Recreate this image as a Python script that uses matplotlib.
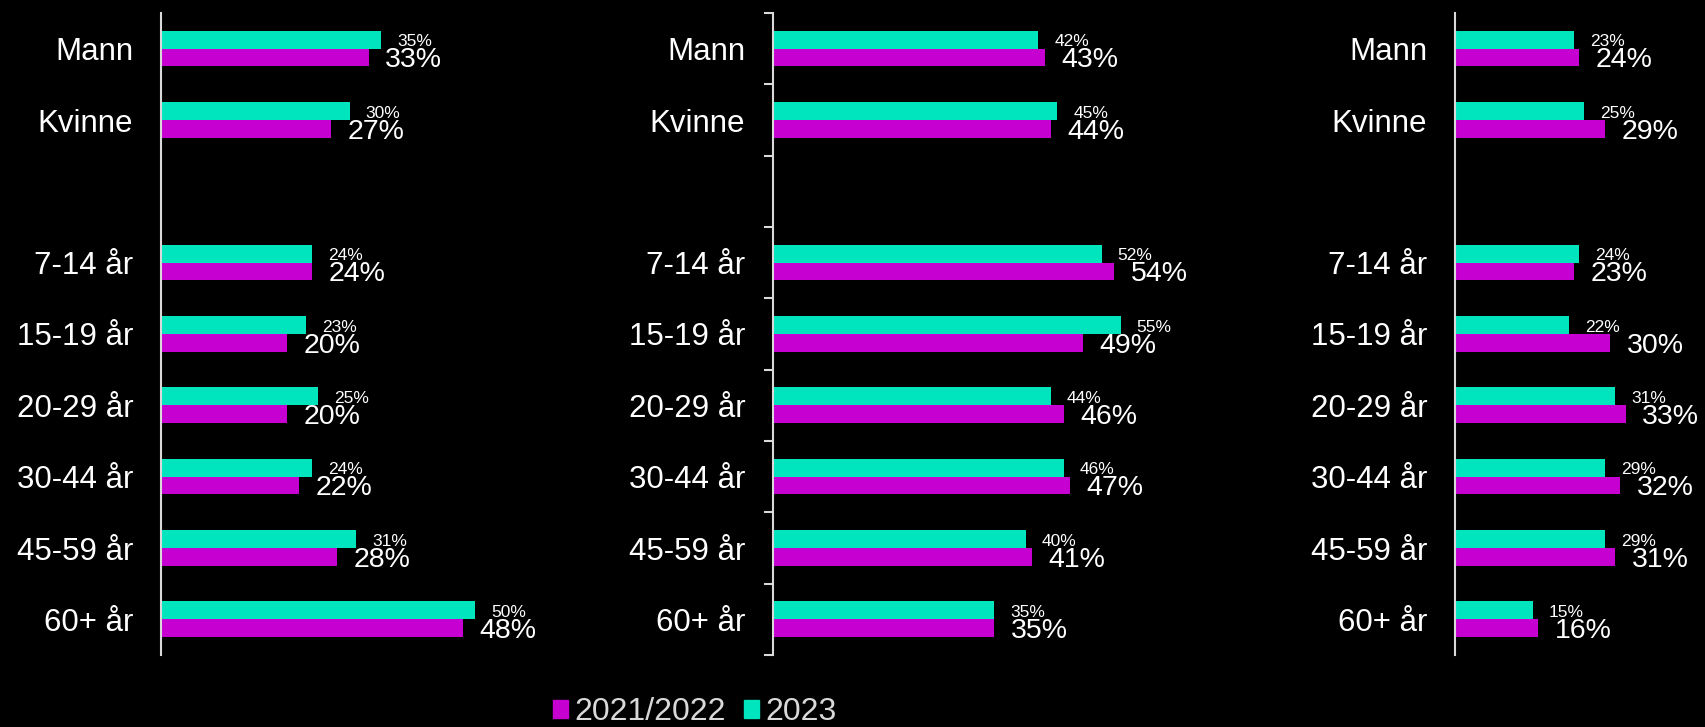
import numpy as np
import matplotlib
matplotlib.use('Agg')
import matplotlib.pyplot as plt
from matplotlib.patches import Patch

plt.rcParams['font.family'] = ['Liberation Sans', 'DejaVu Sans']

categories = ['Mann', 'Kvinne', '7-14 år', '15-19 år', '20-29 år', '30-44 år', '45-59 år', '60+ år']
series_names = ['2021/2022', '2023']
p1_2122 = [33, 27, 24, 20, 20, 22, 28, 48]
p1_2023 = [35, 30, 24, 23, 25, 24, 31, 50]
p2_2122 = [43, 44, 54, 49, 46, 47, 41, 35]
p2_2023 = [42, 45, 52, 55, 44, 46, 40, 35]
p3_2122 = [24, 29, 23, 30, 33, 32, 31, 16]
p3_2023 = [23, 25, 24, 22, 31, 29, 29, 15]

C_OLD = '#C600D0'
C_NEW = '#00E5BE'
AXIS_C = '#d9d9d9'

W, H = 1706, 727
fig = plt.figure(figsize=(W / 100, H / 100), dpi=100, facecolor='black')

panels = [
    dict(old=p1_2122, new=p1_2023, left=161, xmax=60, pxper=6.29, ticks=False),
    dict(old=p2_2122, new=p2_2023, left=773, xmax=60, pxper=6.32, ticks=True),
    dict(old=p3_2122, new=p3_2023, left=1455, xmax=45, pxper=5.17, ticks=False),
]
top_px, bot_px = 13, 655
idx = np.arange(len(categories))
ypos = idx + (idx >= 2)  # empty slot between gender and age groups
nslots = len(categories) + 1
bh = 0.25

for p in panels:
    width_px = p['xmax'] * p['pxper']
    ax = fig.add_axes([p['left'] / W, 1 - bot_px / H, width_px / W, (bot_px - top_px) / H])
    ax.set_facecolor('black')
    ax.barh(ypos - bh / 2, p['new'], height=bh, color=C_NEW)
    ax.barh(ypos + bh / 2, p['old'], height=bh, color=C_OLD)
    ax.set_xlim(0, p['xmax'])
    ax.set_ylim(nslots - 0.5, -0.5)
    for y, v in zip(ypos, p['new']):
        ax.annotate(f'{v}%', (v, y - bh / 2), xytext=(11.5, -1.5), textcoords='offset points',
                    ha='left', va='center', fontsize=12.5, color='white')
    for y, v in zip(ypos, p['old']):
        ax.annotate(f'{v}%', (v, y + bh / 2), xytext=(12, -2), textcoords='offset points',
                    ha='left', va='center', fontsize=20.5, color='white')
    for s in ['top', 'right', 'bottom']:
        ax.spines[s].set_visible(False)
    ax.spines['left'].set_color(AXIS_C)
    ax.spines['left'].set_linewidth(1.5)
    ax.set_xticks([])
    ax.set_yticks(ypos, categories)
    ax.tick_params(axis='y', which='major', length=0, pad=20, labelsize=22.5, labelcolor='white')
    if p['ticks']:
        ax.set_yticks(np.arange(nslots + 1) - 0.5, minor=True)
        ax.tick_params(axis='y', which='minor', length=6.5, width=1.5, color=AXIS_C, direction='out')

fig.legend(handles=[Patch(color=C_OLD), Patch(color=C_NEW)], labels=series_names,
           loc='center', bbox_to_anchor=(695 / W, 1 - 712 / H), ncol=2, frameon=False,
           fontsize=23, handlelength=0.48, handleheight=0.48, handletextpad=0.2,
           columnspacing=0.55, labelcolor=AXIS_C, borderaxespad=0, borderpad=0)

fig.savefig('out.png', facecolor='black', dpi=100)
